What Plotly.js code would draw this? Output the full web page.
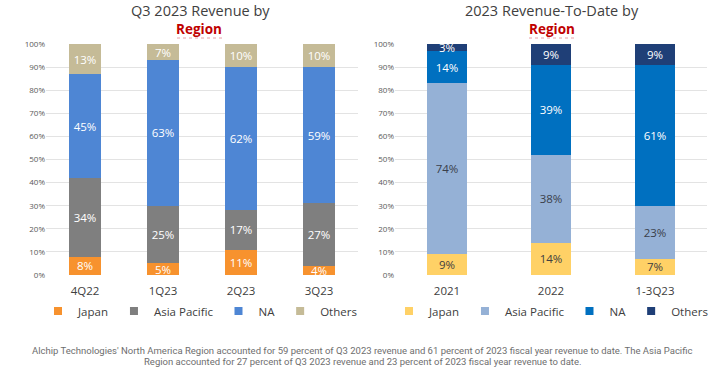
<!DOCTYPE html>
<html>
<head>
<meta charset="utf-8">
<script src="https://cdn.plot.ly/plotly-3.0.1.min.js"></script>
<style>html,body{margin:0;padding:0;background:#fff;}#chart{width:723px;height:379px;}</style>
</head>
<body>
<div id="chart"></div>
<script>
// Left chart: Q3 2023 revenue by region
const quarters = ["4Q22", "1Q23", "2Q23", "3Q23"];
const qJapan = [8, 5, 11, 4];
const qAsiaPacific = [34, 25, 17, 27];
const qNA = [45, 63, 62, 59];
const qOthers = [13, 7, 10, 10];

// Right chart: 2023 revenue-to-date by region
const years = ["2021", "2022", "1-3Q23"];
const yJapan = [9, 14, 7];
const yAsiaPacific = [74, 38, 23];
const yNA = [14, 39, 61];
const yOthers = [3, 9, 9];

const seriesNames = ["Japan", "Asia Pacific", "NA", "Others"];
const yTicks = [0, 10, 20, 30, 40, 50, 60, 70, 80, 90, 100];
const yTickText = yTicks.map(v => v + "%");
const captionLines = [
  "Alchip Technologies' North America Region accounted for 59 percent of Q3 2023 revenue and 61 percent of 2023 fiscal year revenue to date. The Asia Pacific",
  "Region accounted for 27 percent of Q3 2023 revenue and 23 percent of 2023 fiscal year revenue to date."
];

const FONT = "'Open Sans', 'Noto Sans', sans-serif";
const leftColors = ["#F7922E", "#7F7F7F", "#4E86D4", "#C5BB97"];
const leftText = ["#FFFFFF", "#FFFFFF", "#FFFFFF", "#FFFFFF"];
const rightColors = ["#FFD166", "#95B1D6", "#0070C0", "#1F3F77"];
const rightText = ["#404040", "#3A3F4A", "#FFFFFF", "#FFFFFF"];

function bar(x, y, name, color, tcolor, xa, ya, w) {
  return {
    type: "bar", x: x, y: y, name: name, xaxis: xa, yaxis: ya, showlegend: false,
    marker: {color: color, line: {width: 0}}, width: w,
    text: y.map(v => v + "%"), textposition: "inside", insidetextanchor: "middle", textangle: 0,
    textfont: {family: FONT, size: 11.5, color: tcolor}, constraintext: "none",
    hoverinfo: "skip"
  };
}
function legendItem(name, color, leg, xa, ya) {
  return {
    type: "scatter", mode: "markers", x: [null], y: [null], name: name, legend: leg, xaxis: xa, yaxis: ya,
    marker: {symbol: "square", size: 8, color: color}, hoverinfo: "skip", showlegend: true
  };
}

const leftSeries = [qJapan, qAsiaPacific, qNA, qOthers];
const rightSeries = [yJapan, yAsiaPacific, yNA, yOthers];
const traces = [];
leftSeries.forEach((s, i) => traces.push(bar(quarters, s, seriesNames[i], leftColors[i], leftText[i], "x", "y", 0.41)));
rightSeries.forEach((s, i) => traces.push(bar(years, s, seriesNames[i], rightColors[i], rightText[i], "x2", "y2", 0.39)));
seriesNames.forEach((n, i) => traces.push(legendItem(n, leftColors[i], "legend", "x", "y")));
seriesNames.forEach((n, i) => traces.push(legendItem(n, rightColors[i], "legend2", "x2", "y2")));

const W = 723, H = 379;
const yDom = [(H - 275) / H, (H - 44) / H];
const axisY = {
  range: [0, 100], tickvals: yTicks, ticktext: yTickText, showgrid: true, gridcolor: "#E3E3E3", gridwidth: 1,
  zeroline: false, showline: false, ticks: "", tickfont: {family: FONT, size: 8, color: "#595959"}, domain: yDom, fixedrange: true
};
const axisX = {
  showgrid: false, zeroline: false, showline: false, ticks: "", type: "category", ticklabelstandoff: 7,
  tickfont: {family: FONT, size: 11.5, color: "#404040"}, fixedrange: true
};

const legendBase = {
  orientation: "h", xanchor: "center", yanchor: "middle", y: (H - 311) / H,
  font: {family: FONT, size: 11.5, color: "#404040"}, bgcolor: "rgba(0,0,0,0)", traceorder: "normal",
  itemwidth: 30, tracegroupgap: 0
};

function ann(text, x, y, size, color, family) {
  return {text: text, x: x / W, y: (H - y) / H, xref: "paper", yref: "paper", showarrow: false,
    xanchor: "center", yanchor: "middle", font: {family: family || FONT, size: size, color: color}};
}

const layout = {
  width: W, height: H, margin: {l: 0, r: 0, t: 0, b: 0},
  paper_bgcolor: "#FFFFFF", plot_bgcolor: "#FFFFFF",
  barmode: "stack", showlegend: true,
  uniformtext: {mode: "show", minsize: 11},
  xaxis: Object.assign({}, axisX, {domain: [46 / W, 358 / W], anchor: "y"}),
  yaxis: Object.assign({}, axisY, {anchor: "x"}),
  xaxis2: Object.assign({}, axisX, {domain: [395 / W, 707 / W], anchor: "y2"}),
  yaxis2: Object.assign({}, axisY, {anchor: "x2"}),
  legend: Object.assign({}, legendBase, {x: 200 / W}),
  legend2: Object.assign({}, legendBase, {x: 551 / W}),
  annotations: [
    ann("Q3 2023 Revenue by", 200, 11, 14.5, "#404040"),
    ann("<b>Region</b>", 199, 29, 13.5, "#C00000"),
    ann("2023 Revenue-To-Date by", 552, 11, 14.5, "#404040"),
    ann("<b>Region</b>", 552, 29, 13.5, "#C00000"),
    ann(captionLines[0], 362, 350, 9.5, "#6E6E6E", "Roboto, sans-serif"),
    ann(captionLines[1], 362, 361, 9.5, "#6E6E6E", "Roboto, sans-serif")
  ],
  shapes: [
    {type: "line", xref: "paper", yref: "paper", x0: 177 / W, x1: 222 / W, y0: (H - 38) / H, y1: (H - 38) / H,
     line: {color: "#E8A0A8", width: 1, dash: "dot"}},
    {type: "line", xref: "paper", yref: "paper", x0: 529 / W, x1: 574 / W, y0: (H - 38) / H, y1: (H - 38) / H,
     line: {color: "#E8A0A8", width: 1, dash: "dot"}}
  ]
};

Plotly.newPlot("chart", traces, layout, {staticPlot: true, displayModeBar: false});
</script>
</body>
</html>
